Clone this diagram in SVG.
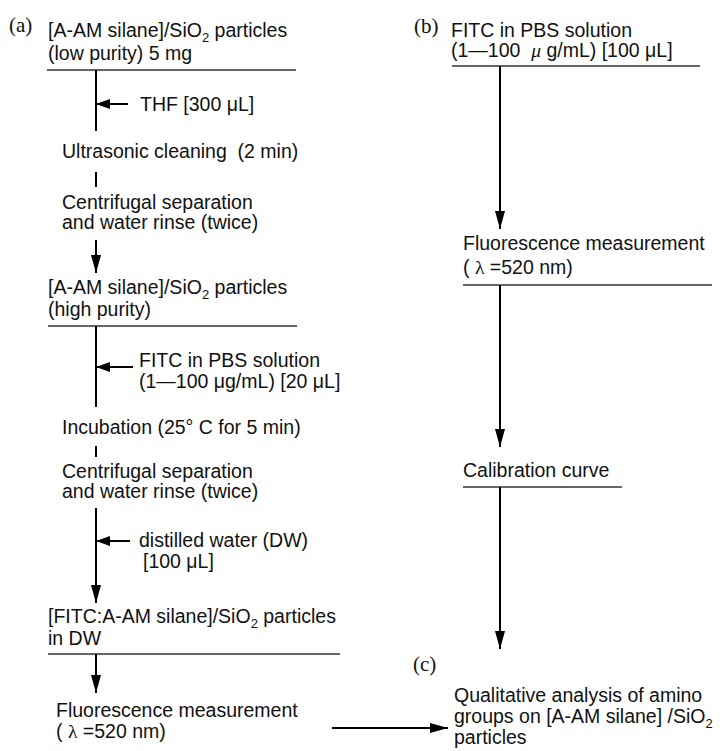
<svg xmlns="http://www.w3.org/2000/svg" width="727" height="751" viewBox="0 0 727 751">
<style>
text{font-family:"Liberation Sans",Arial,sans-serif;font-size:19.5px;fill:#111;white-space:pre}
.lbl{font-family:"Liberation Serif","Times New Roman",serif;font-size:21px}
.gr{font-family:"Liberation Serif","Times New Roman",serif}
.rule{stroke:#333;stroke-width:1.3;fill:none}
.ln{stroke:#000;stroke-width:2;fill:none}
.sub{font-size:13px}
</style>
<defs>
<marker id="ah" markerUnits="userSpaceOnUse" markerWidth="18" markerHeight="12" refX="18" refY="5" orient="auto" viewBox="0 0 18 10">
<path d="M0,0 L18,5 L0,10 z" fill="#000"/>
</marker>
<marker id="ahs" markerUnits="userSpaceOnUse" markerWidth="14" markerHeight="11" refX="14" refY="5" orient="auto" viewBox="0 0 14 10">
<path d="M0,0 L14,5 L0,10 z" fill="#000"/>
</marker>
</defs>

<text class="lbl" x="9" y="32">(a)</text>
<text class="lbl" x="414" y="33">(b)</text>
<text class="lbl" x="413" y="671">(c)</text>

<g id="n1">
<text x="48" y="37">[A-AM silane]/SiO<tspan class="sub" dy="5">2</tspan><tspan dy="-5"> particles</tspan></text>
<text x="48" y="60">(low purity) 5 mg</text>
<line class="rule" x1="47" y1="70" x2="296" y2="70"/>
</g>
<g id="n_thf"><text x="140" y="111">THF [300 μL]</text></g>
<g id="n2"><text x="62" y="158">Ultrasonic cleaning  (2 min)</text></g>
<g id="n3"><text x="62" y="209">Centrifugal separation</text><text x="62" y="229">and water rinse (twice)</text></g>
<g id="n4">
<text x="48" y="294">[A-AM silane]/SiO<tspan class="sub" dy="5">2</tspan><tspan dy="-5"> particles</tspan></text>
<text x="48" y="316">(high purity)</text>
<line class="rule" x1="48" y1="326" x2="297" y2="326"/>
</g>
<g id="n_fitc"><text x="139" y="367">FITC in PBS solution</text><text x="139" y="388">(1—100 μg/mL) [20 μL]</text></g>
<g id="n5"><text x="62" y="434">Incubation (25° C for 5 min)</text></g>
<g id="n6"><text x="62" y="478">Centrifugal separation</text><text x="62" y="498">and water rinse (twice)</text></g>
<g id="n_dw"><text x="139" y="547">distilled water (DW)</text><text x="143" y="568">[100 μL]</text></g>
<g id="n7">
<text x="48" y="623">[FITC:A-AM silane]/SiO<tspan class="sub" dy="5">2</tspan><tspan dy="-5"> particles</tspan></text>
<text x="48" y="645">in DW</text>
<line class="rule" x1="48" y1="654" x2="340" y2="654"/>
</g>
<g id="n8"><text x="56" y="717">Fluorescence measurement</text><text x="56" y="738">( <tspan class="gr">λ</tspan> =520 nm)</text></g>

<g id="r1">
<text x="451" y="37">FITC in PBS solution</text>
<text x="451" y="57">(1—100  <tspan class="gr" font-style="italic">μ</tspan> g/mL) [100 μL]</text>
<line class="rule" x1="452" y1="66" x2="700" y2="66"/>
</g>
<g id="r2">
<text x="463" y="250">Fluorescence measurement</text>
<text x="463" y="274">( <tspan class="gr">λ</tspan> =520 nm)</text>
<line class="rule" x1="463" y1="285" x2="712" y2="285"/>
</g>
<g id="r3">
<text x="463" y="477">Calibration curve</text>
<line class="rule" x1="463" y1="487" x2="622" y2="487"/>
</g>
<g id="c1">
<text x="454" y="702">Qualitative analysis of amino</text>
<text x="454" y="723">groups on [A-AM silane] /SiO<tspan class="sub" dy="5">2</tspan></text>
<text x="454" y="744">particles</text>
</g>

<g id="connectors">
<line class="ln" x1="96" y1="70" x2="96" y2="131"/>
<line class="ln" x1="128" y1="104" x2="96" y2="104" marker-end="url(#ahs)"/>
<line class="ln" x1="96" y1="172" x2="96" y2="187"/>
<line class="ln" x1="96" y1="240" x2="96" y2="273" marker-end="url(#ah)"/>
<line class="ln" x1="96" y1="326" x2="96" y2="407"/>
<line class="ln" x1="133" y1="367" x2="96" y2="367" marker-end="url(#ahs)"/>
<line class="ln" x1="96" y1="446" x2="96" y2="457"/>
<line class="ln" x1="96" y1="508" x2="96" y2="603" marker-end="url(#ah)"/>
<line class="ln" x1="130" y1="541" x2="96" y2="541" marker-end="url(#ahs)"/>
<line class="ln" x1="96" y1="654" x2="96" y2="693" marker-end="url(#ah)"/>
<line class="ln" x1="332" y1="728" x2="448" y2="728" marker-end="url(#ah)"/>
<line class="ln" x1="500" y1="66" x2="500" y2="229" marker-end="url(#ah)"/>
<line class="ln" x1="500" y1="285" x2="500" y2="447" marker-end="url(#ah)"/>
<line class="ln" x1="500" y1="487" x2="500" y2="649" marker-end="url(#ah)"/>
</g>
</svg>
